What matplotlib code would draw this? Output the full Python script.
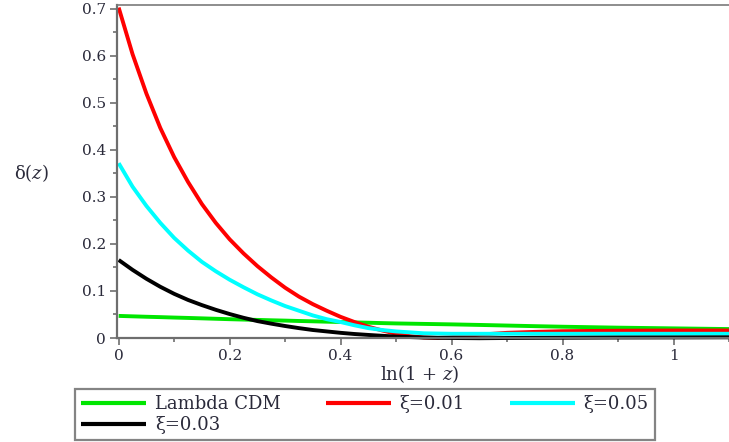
import matplotlib
matplotlib.use("Agg")
import matplotlib.pyplot as plt
from matplotlib.ticker import MultipleLocator, FixedLocator

# ---- data ----
x_vals = [0.0, 0.025, 0.05, 0.075, 0.1, 0.125, 0.15, 0.175, 0.2, 0.225,
          0.25, 0.275, 0.3, 0.325, 0.35, 0.375, 0.4, 0.425, 0.45, 0.475,
          0.5, 0.525, 0.55, 0.575, 0.6, 0.65, 0.7, 0.75, 0.8, 0.9, 1.0, 1.1]
lambda_cdm = [0.047, 0.0461, 0.0452, 0.0444, 0.0435, 0.0427, 0.0418, 0.0409,
              0.040, 0.0392, 0.0385, 0.0377, 0.037, 0.0362, 0.0355, 0.0347,
              0.034, 0.0332, 0.0325, 0.0317, 0.031, 0.0305, 0.030, 0.0295,
              0.029, 0.0278, 0.0265, 0.0252, 0.024, 0.022, 0.0205, 0.019]
xi_001 = [0.703, 0.604, 0.520, 0.447, 0.385, 0.332, 0.285, 0.245, 0.210,
          0.180, 0.153, 0.129, 0.107, 0.088, 0.072, 0.058, 0.045, 0.034,
          0.024, 0.016, 0.009, 0.004, 0.001, 0.000, 0.002, 0.007, 0.011,
          0.013, 0.0145, 0.0155, 0.016, 0.016]
xi_005 = [0.372, 0.322, 0.281, 0.245, 0.213, 0.186, 0.162, 0.142, 0.124,
          0.108, 0.093, 0.080, 0.068, 0.058, 0.048, 0.040, 0.034, 0.027,
          0.021, 0.017, 0.014, 0.012, 0.010, 0.0095, 0.009, 0.009, 0.009,
          0.009, 0.009, 0.009, 0.009, 0.009]
xi_003 = [0.166, 0.145, 0.126, 0.109, 0.094, 0.081, 0.070, 0.060, 0.051,
          0.043, 0.036, 0.0305, 0.0255, 0.021, 0.017, 0.014, 0.011, 0.0085,
          0.0065, 0.0047, 0.003, 0.002, 0.001, 0.0004, 0.000, -0.0005, 0.000,
          0.0003, 0.0005, 0.001, 0.0012, 0.0015]

series_labels = ["Lambda CDM", "ξ=0.01", "ξ=0.05", "ξ=0.03"]
series_colors = ["#00e600", "#ff0000", "#00ffff", "#000000"]

y_ticks = [0, 0.1, 0.2, 0.3, 0.4, 0.5, 0.6, 0.7]
y_ticklabels = ["0", "0.1", "0.2", "0.3", "0.4", "0.5", "0.6", "0.7"]
x_ticks = [0, 0.2, 0.4, 0.6, 0.8, 1.0]
x_ticklabels = ["0", "0.2", "0.4", "0.6", "0.8", "1"]

plt.rcParams["font.family"] = ["DejaVu Serif"]
plt.rcParams["mathtext.fontset"] = "dejavuserif"

W, H = 729, 442
fig = plt.figure(figsize=(W / 100, H / 100), dpi=100)
ax = fig.add_axes([117 / W, 1 - 338 / H, (W - 117) / W, (338 - 5) / H])

handles = []
for ys, lab, col in zip([lambda_cdm, xi_001, xi_005, xi_003], series_labels, series_colors):
    (ln,) = ax.plot(x_vals, ys, color=col, lw=2.8, label=lab, clip_on=False,
                    solid_capstyle="butt", solid_joinstyle="round")
    handles.append(ln)

ax.set_xlim(-0.003, 1.1)
ax.set_ylim(0, 0.7085)

spine_col = "#6e6e6e"
ax.spines["right"].set_visible(False)
for s in ["left", "bottom"]:
    ax.spines[s].set_color(spine_col)
    ax.spines[s].set_linewidth(1.6)
ax.spines["top"].set_color("#7a7a7a")
ax.spines["top"].set_linewidth(1.2)

ax.yaxis.set_major_locator(FixedLocator(y_ticks))
ax.set_yticklabels(y_ticklabels)
ax.yaxis.set_minor_locator(MultipleLocator(0.05))
ax.xaxis.set_major_locator(FixedLocator(x_ticks))
ax.set_xticklabels(x_ticklabels)
ax.xaxis.set_minor_locator(MultipleLocator(0.1))

lab_col = "#2a2a3a"
ax.tick_params(axis="both", which="major", direction="out", length=5, width=1.2,
               color=spine_col, labelsize=11, labelcolor=lab_col, pad=3)
ax.tick_params(axis="both", which="minor", direction="out", length=3, width=1.2,
               color=spine_col)

fig.text(31 / W, 1 - 173 / H, "δ($z$)", ha="center", va="center",
         fontsize=13, color=lab_col)
fig.text(420 / W, 1 - 374 / H, "ln(1 + $z$)", ha="center", va="center",
         fontsize=13, color=lab_col)

order = [0, 3, 1, 2]
leg = fig.legend([handles[i] for i in order], [series_labels[i] for i in order],
                 ncol=3, loc="upper left", mode="expand",
                 bbox_to_anchor=(75 / W, 1 - 389 / H, 580 / W, 0),
                 bbox_transform=fig.transFigure, borderaxespad=0,
                 fontsize=13, handlelength=3.6, handletextpad=0.5,
                 labelspacing=0.15, borderpad=0.35, columnspacing=0.8,
                 fancybox=False, frameon=True)
leg.get_frame().set_edgecolor("#666666")
leg.get_frame().set_linewidth(1.6)
for t in leg.get_texts():
    t.set_color(lab_col)
for l in leg.get_lines():
    l.set_linewidth(3)

fig.savefig("out.png", dpi=100)
